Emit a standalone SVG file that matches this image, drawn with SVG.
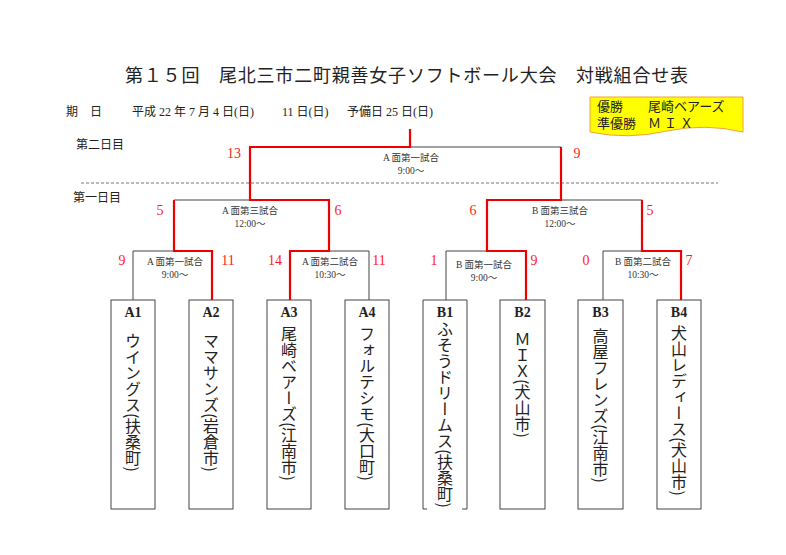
<svg xmlns="http://www.w3.org/2000/svg" width="786" height="555" viewBox="0 0 786 555">
<style>
  .t { font-family: "Liberation Serif", "Noto Sans CJK JP", serif; fill: #222; }
  .title { font-size: 18px; }
  .hd { font-size: 12px; }
  .ml { font-size: 9.5px; fill: #333; text-anchor: middle; }
  .sc { font-family: "Liberation Serif", serif; font-size: 14px; fill: #ff1a1a; text-anchor: middle; }
  .lab { font-size: 14px; text-anchor: middle; font-weight: bold; }
  .vt { font-family: "Noto Sans CJK JP", sans-serif; font-size: 16px; font-weight: 400; fill: #222; writing-mode: vertical-rl; text-orientation: mixed; }
  .box { fill: #fff; stroke: #444; stroke-width: 1; }
  .bl { fill: none; stroke: #444; stroke-width: 1; }
  .rd { fill: none; stroke: #ee0000; stroke-width: 2.2; }
</style>
<rect width="786" height="555" fill="#fff"/>

<g id="title">
  <text class="t title" x="125" y="82" textLength="563" lengthAdjust="spacing">第１５回　尾北三市二町親善女子ソフトボール大会　対戦組合せ表</text>
</g>
<g id="header">
  <text class="t hd" x="66" y="116">期　日</text>
  <text class="t hd" x="132" y="116">平成 22 年 7 月 4 日(日)</text>
  <text class="t hd" x="282" y="116">11 日(日)</text>
  <text class="t hd" x="347" y="116">予備日 25 日(日)</text>
</g>
<g id="result-box">
  <path d="M590,97 H743 V132 Q705,123 667,131 Q628,140 590,132 Z" fill="#ffff00" stroke="#f0a040" stroke-width="1"/>
  <text class="t" font-size="13" x="597" y="111">優勝</text>
  <text class="t" font-size="13" x="648" y="111">尾崎ベアーズ</text>
  <text class="t" font-size="13" x="597" y="128">準優勝</text>
  <text class="t" font-size="13" x="648" y="128" letter-spacing="3">ＭＩＸ</text>
</g>
<g id="days">
  <text class="t hd" x="76" y="149">第二日目</text>
  <text class="t hd" x="73" y="202">第一日目</text>
  <line x1="81" y1="183" x2="718" y2="183" stroke="#777" stroke-width="1" stroke-dasharray="3,2"/>
</g>

<g id="connectors">
  <path class="bl" d="M133,300 V251 H174"/>
  <path class="bl" d="M369,300 V251 H329"/>
  <path class="bl" d="M174,200 H250"/>
  <path class="bl" d="M410,147 H561"/>
  <path class="bl" d="M446,300 V251 H487"/>
  <path class="bl" d="M603,300 V251 H642"/>
  <path class="bl" d="M561,200 H642"/>
  <path class="rd" d="M290,300 V251 H329 V200 H250 V147 H410 V129"/>
  <path class="rd" d="M212,300 V251 H174 V200"/>
  <path class="rd" d="M526,300 V251 H487 V200 H561 V147"/>
  <path class="rd" d="M681,300 V251 H642 V200"/>
</g>

<g id="match-labels">
  <text class="t ml" x="411" y="161">A 面第一試合</text>
  <text class="t ml" x="411" y="174">9:00～</text>
  <text class="t ml" x="250" y="214">A 面第三試合</text>
  <text class="t ml" x="250" y="227">12:00～</text>
  <text class="t ml" x="560" y="214">B 面第三試合</text>
  <text class="t ml" x="560" y="227">12:00～</text>
  <text class="t ml" x="175" y="265">A 面第一試合</text>
  <text class="t ml" x="175" y="278">9:00～</text>
  <text class="t ml" x="330" y="265">A 面第二試合</text>
  <text class="t ml" x="330" y="278">10:30～</text>
  <text class="t ml" x="484" y="268">B 面第一試合</text>
  <text class="t ml" x="484" y="281">9:00～</text>
  <text class="t ml" x="643" y="265">B 面第二試合</text>
  <text class="t ml" x="643" y="278">10:30～</text>
</g>

<g id="scores">
  <text class="sc" x="234" y="158">13</text>
  <text class="sc" x="577" y="158">9</text>
  <text class="sc" x="160" y="215">5</text>
  <text class="sc" x="338" y="215">6</text>
  <text class="sc" x="473" y="215">6</text>
  <text class="sc" x="650" y="215">5</text>
  <text class="sc" x="122" y="265">9</text>
  <text class="sc" x="228" y="265">11</text>
  <text class="sc" x="275" y="265">14</text>
  <text class="sc" x="379" y="265">11</text>
  <text class="sc" x="434" y="265">1</text>
  <text class="sc" x="534" y="265">9</text>
  <text class="sc" x="586" y="265">0</text>
  <text class="sc" x="689" y="265">7</text>
</g>

<g id="team-A1">
  <rect class="box" x="111" y="300" width="44" height="209"/>
  <text class="t lab" x="133" y="317">A1</text>
  <text class="vt" x="133" y="333">ウイングス(扶桑町)</text>
</g>
<g id="team-A2">
  <rect class="box" x="189" y="300" width="44" height="209"/>
  <text class="t lab" x="211" y="317">A2</text>
  <text class="vt" x="211" y="333">ママサンズ(岩倉市)</text>
</g>
<g id="team-A3">
  <rect class="box" x="267" y="300" width="44" height="209"/>
  <text class="t lab" x="289" y="317">A3</text>
  <text class="vt" x="289" y="326">尾崎ベアーズ(江南市)</text>
</g>
<g id="team-A4">
  <rect class="box" x="345" y="300" width="44" height="209"/>
  <text class="t lab" x="367" y="317">A4</text>
  <text class="vt" x="367" y="326">フォルテシモ(大口町)</text>
</g>
<g id="team-B1">
  <path class="bl" d="M427,509 H423 V300 H467 V509 H462"/>
  <text class="t lab" x="445" y="317">B1</text>
  <text class="vt" x="445" y="321">ふそうドリームス(扶桑町)</text>
</g>
<g id="team-B2">
  <rect class="box" x="500" y="300" width="45" height="209"/>
  <text class="t lab" x="522.5" y="317">B2</text>
  <text class="vt" x="522.5" y="331">ＭＩＸ(犬山市)</text>
</g>
<g id="team-B3">
  <rect class="box" x="578" y="300" width="45" height="209"/>
  <text class="t lab" x="600.5" y="317">B3</text>
  <text class="vt" x="600.5" y="328">高屋フレンズ(江南市)</text>
</g>
<g id="team-B4">
  <rect class="box" x="657" y="300" width="44" height="209"/>
  <text class="t lab" x="679" y="317">B4</text>
  <text class="vt" x="679" y="325">犬山レディース(犬山市)</text>
</g>
</svg>
